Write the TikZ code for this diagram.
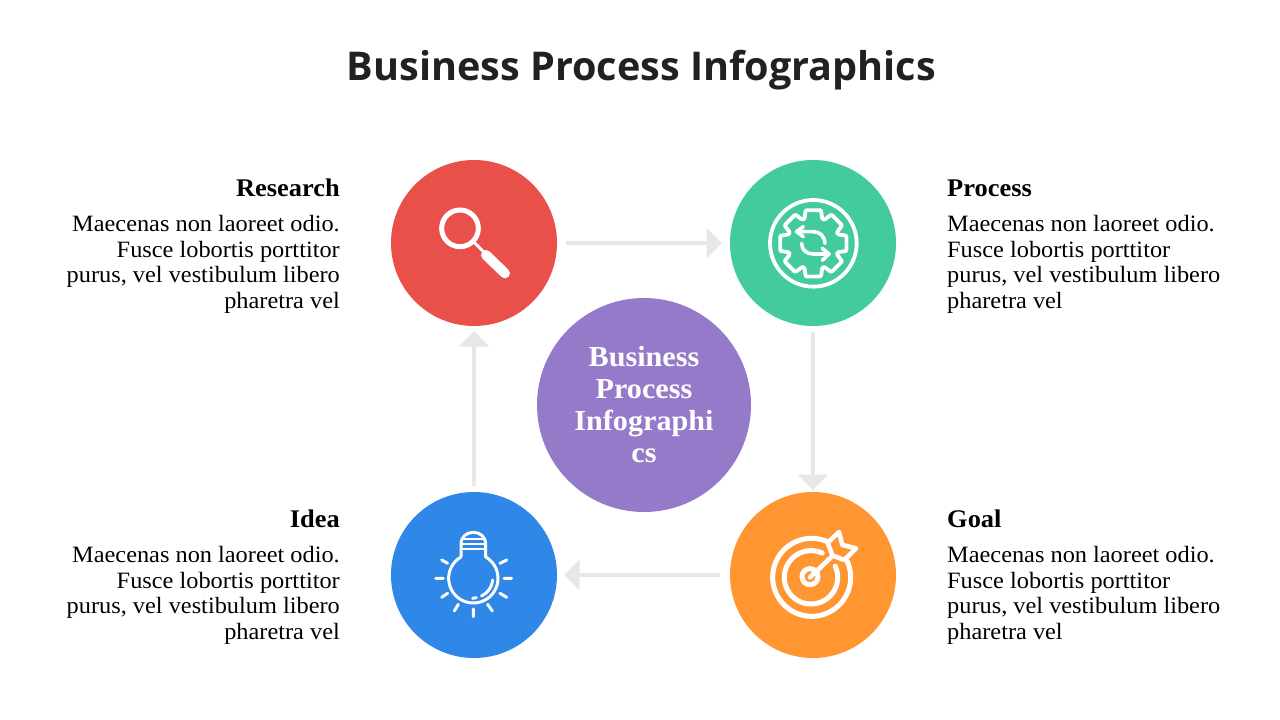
\documentclass[tikz,border=0pt]{standalone}
\usepackage{fontspec}
\setmainfont[FakeStretch=1.04]{Liberation Serif}
\newfontfamily\titlefont{Open Sans}
\usetikzlibrary{arrows.meta}
\definecolor{cred}{HTML}{E9504A}
\definecolor{cgreen}{HTML}{43CB9C}
\definecolor{corange}{HTML}{FF9631}
\definecolor{cblue}{HTML}{2F87E8}
\definecolor{cpurple}{HTML}{957ACA}
\definecolor{cgrey}{HTML}{E7E7E7}
\definecolor{ctitle}{HTML}{212121}
\tikzset{
  disc/.style={circle,inner sep=0pt,outer sep=0pt,minimum size=166pt},
  flow/.style={draw=cgrey,line width=4pt,-{Triangle[length=15.5pt,width=30pt,color=cgrey]}},
  headL/.style={anchor=base east,font=\fontsize{25.4}{30}\selectfont\bfseries,inner sep=0pt},
  headR/.style={anchor=base west,font=\fontsize{25.4}{30}\selectfont\bfseries,inner sep=0pt},
  bodyL/.style={anchor=north east,align=right,font=\fontsize{23.4}{25.6}\selectfont,inner sep=0pt},
  bodyR/.style={anchor=north west,align=left,font=\fontsize{23.4}{25.6}\selectfont,inner sep=0pt},
}
\begin{document}
\begin{tikzpicture}[x=1pt,y=-1pt]
\useasboundingbox (0,0) rectangle (1280,720);
\fill[white] (0,0) rectangle (1280,720);
\node[font=\titlefont\fontsize{39.6}{48}\selectfont\bfseries,text=ctitle,inner sep=0pt] (title) at (641.5,70.5) {Business Process Infographics};
\node[disc,fill=cred] (research) at (474,243) {};
\node[disc,fill=cgreen] (process) at (813,243) {};
\node[disc,fill=corange] (goal) at (813,575) {};
\node[disc,fill=cblue] (idea) at (474,575) {};
\node[circle,inner sep=0pt,minimum size=214pt,fill=cpurple,text=white,align=center,font=\fontsize{29}{32}\selectfont\bfseries] (center) at (644,405) {Business\\Process\\Infographi\\cs};
\draw[flow,shorten <=9pt,shorten >=8pt] (research) -- (process);
\draw[flow,shorten <=6pt,shorten >=2pt] (process) -- (goal);
\draw[flow,shorten <=10pt,shorten >=7pt] (goal) -- (idea);
\draw[flow,shorten <=6pt,shorten >=5pt] (idea) -- (research);
\node[headL] (h1) at (340,196) {Research};
\node[bodyL] (b1) at (340,215) {Maecenas non laoreet odio.\\Fusce lobortis porttitor\\purus, vel vestibulum libero\\pharetra vel};
\node[headR] (h2) at (947,196) {Process};
\node[bodyR] (b2) at (947,215) {Maecenas non laoreet odio.\\Fusce lobortis porttitor\\purus, vel vestibulum libero\\pharetra vel};
\node[headL] (h3) at (340,527) {Idea};
\node[bodyL] (b3) at (340,546) {Maecenas non laoreet odio.\\Fusce lobortis porttitor\\purus, vel vestibulum libero\\pharetra vel};
\node[headR] (h4) at (947,527) {Goal};
\node[bodyR] (b4) at (947,546) {Maecenas non laoreet odio.\\Fusce lobortis porttitor\\purus, vel vestibulum libero\\pharetra vel};
% magnifier
\begin{scope}[shift={(420,190)},x=0.3333pt,y=-0.3333pt]
\draw[draw=white,line width=5pt] (120,115) circle (55);
\draw[draw=white,line width=3pt] (163,158) -- (195,190);
\draw[draw=white,line width=10pt,line cap=round] (198,195) -- (255,250);
\end{scope}
% gear
\begin{scope}[shift={(755,185)},x=0.3333pt,y=-0.3333pt]
\draw[draw=white,line width=3.8pt] (175,175) circle (130);
\draw[draw=white,line width=3.8pt,rounded corners=1pt,line join=round]
  ({175+78*cos(-20)},{175+78*sin(-20)})
  \foreach \a in {0,45,...,315}{
    -- ({175+78*cos(\a-20)},{175+78*sin(\a-20)}) -- ({175+102*cos(\a-13)},{175+102*sin(\a-13)}) -- ({175+102*cos(\a+13)},{175+102*sin(\a+13)}) -- ({175+78*cos(\a+20)},{175+78*sin(\a+20)})
  } -- cycle;
\draw[draw=white,line width=3.6pt,line cap=round,line join=round] (125,140) -- (175,140) .. controls (195,140) and (210,155) .. (210,175);
\draw[draw=white,line width=3.6pt,line cap=round,line join=round] (145,125) -- (125,140) -- (145,155);
\draw[draw=white,line width=3.6pt,line cap=round,line join=round] (140,175) .. controls (140,195) and (155,207) .. (175,207) -- (222,207);
\draw[draw=white,line width=3.6pt,line cap=round,line join=round] (202,190) -- (222,207) -- (202,226);
\end{scope}
% target
\begin{scope}[shift={(755,520)},x=0.3333pt,y=-0.3333pt]
\draw[draw=white,line width=5pt,line cap=round] plot[smooth,domain=-25:295,samples=90] ({170+117*cos(\x)},{172+117*sin(\x)});
\draw[draw=white,line width=5pt,line cap=round] plot[smooth,domain=-25:295,samples=80] ({168+80*cos(\x)},{172+80*sin(\x)});
\draw[draw=white,line width=5pt] (165,170) circle (24);
\draw[draw=white,line width=4.6pt,line cap=round] (165,172) -- (228,112);
\draw[draw=white,line width=4.6pt,line join=round] (218,68) -- (252,36) -- (262,75) -- (303,85) -- (268,120) -- (232,106) -- cycle;
\end{scope}
% bulb
\begin{scope}[shift={(425,525)},x=0.3333pt,y=-0.3333pt]
\draw[draw=white,line width=3pt,line cap=round,line join=round]
  plot[smooth,domain=240:-60,samples=70] ({145+74*cos(\x)},{160+74*sin(\x)})
  -- (182,92) -- (182,58) .. controls (182,35) and (165,22) .. (145,22) .. controls (125,22) and (108,35) .. (108,58) -- (108,92) -- ({145+74*cos(240)},{160+74*sin(240)});
\draw[draw=white,line width=2.6pt] (112,42) -- (178,42) (110,57) -- (180,57) (110,72) -- (180,72);
\draw[draw=white,line width=3pt,line cap=round] plot[smooth,domain=5:65,samples=20] ({145+58*cos(\x)},{160+58*sin(\x)});
\draw[draw=white,line width=3pt,line cap=round] (143,220) -- (154,218);
\draw[draw=white,line width=3pt,line cap=round]
  (50,105) -- (68,115) (32,160) -- (55,160) (50,217) -- (68,205) (88,258) -- (100,238) (145,252) -- (145,275) (188,238) -- (202,258) (225,205) -- (245,217) (237,160) -- (260,160) (225,115) -- (245,105);
\end{scope}
\end{tikzpicture}
\end{document}
